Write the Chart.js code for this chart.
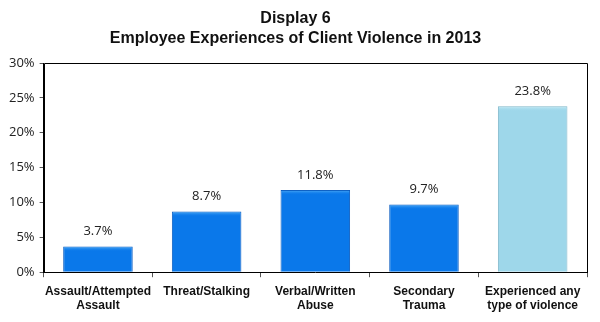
<!DOCTYPE html>
<html><head><meta charset="utf-8">
<script src="https://cdn.jsdelivr.net/npm/chart.js@4.4.0/dist/chart.umd.min.js"></script>
<style>html,body{margin:0;padding:0;background:#fff}#wrap{width:600px;height:322px}</style>
</head><body><div id="wrap"><canvas id="c" width="600" height="322"></canvas></div>
<script>
const categories = [["Assault/Attempted","Assault"],"Threat/Stalking",["Verbal/Written","Abuse"],["Secondary","Trauma"],["Experienced any","type of violence"]];
const values = [3.7, 8.7, 11.8, 9.7, 23.8];
const valueLabels = ["3.7%","8.7%","11.8%","9.7%","23.8%"];
const yTicks = [0,5,10,15,20,25,30];

const frame = {
  id:'frame',
  afterDatasetsDraw(chart){
    const {ctx, chartArea:a} = chart;
    ctx.save();
    const meta = chart.getDatasetMeta(0);
    meta.data.forEach((el,i)=>{
      const light = i===4;
      const x0 = el.x - el.width/2 + 1, w = el.width - 2;
      const g = ctx.createLinearGradient(0, el.y, 0, el.y+5);
      g.addColorStop(0, light ? '#c8ecf7' : '#5ab4f8');
      g.addColorStop(1, light ? 'rgba(158,215,234,0)' : 'rgba(10,120,234,0)');
      ctx.fillStyle = g;
      ctx.fillRect(x0, el.y+1, w, 5);
    });
    ctx.strokeStyle='#000'; ctx.lineWidth=1;
    ctx.beginPath();
    ctx.moveTo(Math.round(a.left)+0.5, Math.round(a.bottom)+0.5);
    ctx.lineTo(Math.round(a.left)+0.5, Math.round(a.top)+0.5);
    ctx.lineTo(Math.round(a.right)+0.5, Math.round(a.top)+0.5);
    ctx.lineTo(Math.round(a.right)+0.5, Math.round(a.bottom)+0.5);
    ctx.stroke();
    ctx.fillStyle='#222';
    ctx.font='13px "Open Sans", "DejaVu Sans", sans-serif';
    ctx.textAlign='center'; ctx.textBaseline='middle';
    meta.data.forEach((el,i)=>{ ctx.fillText(valueLabels[i], el.x, el.y-15); });
    ctx.restore();
  }
};

function barFill(ctx){
  const i = ctx.dataIndex;
  const light = i===4;
  const flat = light ? '#9ed7ea' : '#0a78ea';
  const el = ctx.element;
  if(!el || !Number.isFinite(el.x) || !Number.isFinite(el.width) || el.width<=0) return flat;
  const x0 = el.x - el.width/2, x1 = el.x + el.width/2;
  const g = ctx.chart.ctx.createLinearGradient(x0,0,x1,0);
  if(light){
    g.addColorStop(0,'#8ecde2'); g.addColorStop(0.06,'#a6dcee'); g.addColorStop(0.5,'#9ed7ea'); g.addColorStop(0.94,'#98d2e6'); g.addColorStop(1,'#7dbcd2');
  } else {
    g.addColorStop(0,'#0866d2'); g.addColorStop(0.06,'#1a84f0'); g.addColorStop(0.5,'#0a78ea'); g.addColorStop(0.94,'#0874e4'); g.addColorStop(1,'#065cc0');
  }
  return g;
}

new Chart(document.getElementById('c'), {
  type:'bar',
  data:{ labels:categories, datasets:[{ data:values,
    backgroundColor: barFill,
    borderColor: values.map((v,i)=> i===4 ? '#7fb6c9' : '#0a5cc0'),
    borderWidth:1, barPercentage:0.64, categoryPercentage:1 }]},
  options:{
    responsive:false, animation:false,
    layout:{padding:{left:4,right:13,top:0,bottom:2}},
    plugins:{
      legend:{display:false}, tooltip:{enabled:false},
      title:{display:true, text:["Display 6","Employee Experiences of Client Violence in 2013"],
        color:'#111', font:{family:'"Liberation Sans", Arial, sans-serif', size:16, weight:'bold', lineHeight:1.25},
        padding:{top:9,bottom:14}}
    },
    scales:{
      y:{ min:0, max:30, afterBuildTicks(s){ s.ticks = yTicks.map(v=>({value:v})); },
        border:{display:true,color:'#000'},
        grid:{display:true, drawOnChartArea:false, drawTicks:true, tickLength:4, color:'#555'},
        ticks:{ callback:v=>v+'%', color:'#222', padding:5, font:{family:'"Open Sans", "DejaVu Sans", sans-serif', size:13} } },
      x:{ offset:true,
        border:{display:true,color:'#000'},
        grid:{display:true, offset:true, drawOnChartArea:false, drawTicks:true, tickLength:5, color:'#555'},
        ticks:{ color:'#111', padding:7, maxRotation:0, autoSkip:false,
          font:{family:'"Liberation Sans", Arial, sans-serif', size:12, weight:'bold', lineHeight:1.2} } }
    }
  },
  plugins:[frame]
});
</script></body></html>
